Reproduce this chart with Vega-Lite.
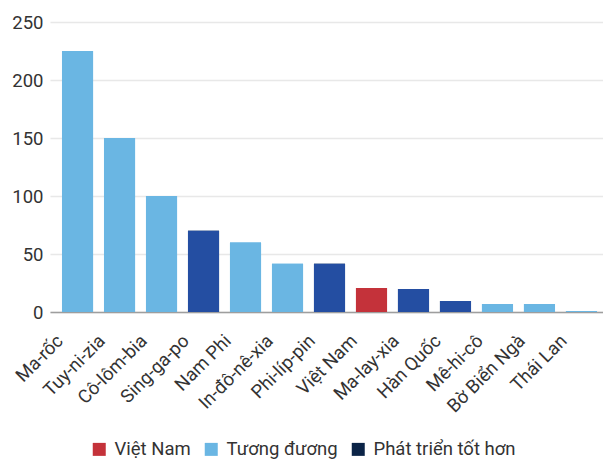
{
  "$schema": "https://vega.github.io/schema/vega-lite/v6.json",
  "autosize": "none",
  "width": 553,
  "height": 290,
  "padding": {"left": 50, "top": 22, "right": 0, "bottom": 147},
  "background": "white",
  "config": {
    "font": "Roboto",
    "view": {"stroke": null}
  },
  "data": {
    "values": [
      {"country": "Ma-rốc", "value": 225, "group": "Tương đương"},
      {"country": "Tuy-ni-zia", "value": 150, "group": "Tương đương"},
      {"country": "Cô-lôm-bia", "value": 100, "group": "Tương đương"},
      {"country": "Sing-ga-po", "value": 70, "group": "Phát triển tốt hơn"},
      {"country": "Nam Phi", "value": 60, "group": "Tương đương"},
      {"country": "In-đô-nê-xia", "value": 41.5, "group": "Tương đương"},
      {"country": "Phi-líp-pin", "value": 41.5, "group": "Phát triển tốt hơn"},
      {"country": "Việt Nam", "value": 20.7, "group": "Việt Nam"},
      {"country": "Ma-lay-xia", "value": 19.8, "group": "Phát triển tốt hơn"},
      {"country": "Hàn Quốc", "value": 9.5, "group": "Phát triển tốt hơn"},
      {"country": "Mê-hi-cô", "value": 7, "group": "Tương đương"},
      {"country": "Bờ Biển Ngà", "value": 7, "group": "Tương đương"},
      {"country": "Thái Lan", "value": 0.8, "group": "Tương đương"}
    ]
  },
  "encoding": {
    "x": {
      "field": "country",
      "type": "nominal",
      "sort": null,
      "scale": {"paddingInner": 0.26, "paddingOuter": 0.214, "align": 0.667},
      "axis": {
        "title": null,
        "labelAngle": -45,
        "labelFontSize": 18.5,
        "labelColor": "#333333",
        "labelPadding": 19,
        "labelOffset": -24,
        "ticks": false,
        "domainColor": "#9e9e9e",
        "domainWidth": 1.5
      }
    },
    "y": {
      "field": "value",
      "type": "quantitative",
      "scale": {"domain": [0, 250], "nice": false},
      "axis": {
        "title": null,
        "values": [0, 50, 100, 150, 200, 250],
        "labelFontSize": 18.5,
        "labelColor": "#333333",
        "labelPadding": 7,
        "ticks": false,
        "domain": false,
        "gridColor": "#e8e8e8",
        "gridWidth": 1.5
      }
    }
  },
  "layer": [
    {
      "mark": {"type": "bar"},
      "encoding": {
        "color": {
          "field": "group",
          "type": "nominal",
          "scale": {
            "domain": ["Việt Nam", "Tương đương", "Phát triển tốt hơn"],
            "range": ["#c4323a", "#6ab6e3", "#0b2447"]
          },
          "legend": {
            "title": null,
            "orient": "none",
            "direction": "horizontal",
            "legendX": 40,
            "legendY": 418,
            "padding": 0,
            "symbolType": "square",
            "symbolSize": 169,
            "symbolStrokeWidth": 0,
            "symbolOpacity": 1,
            "labelFontSize": 18.5,
            "labelColor": "#333333",
            "labelOffset": 6,
            "columnPadding": 11,
            "labelExpr": "datum.label == 'Tương đương' ? 'Tương đương\u00a0\u00a0\u00a0' : datum.label"
          }
        }
      }
    },
    {
      "mark": {"type": "bar"},
      "encoding": {
        "fill": {
          "field": "group",
          "type": "nominal",
          "scale": {
            "domain": ["Việt Nam", "Tương đương", "Phát triển tốt hơn"],
            "range": ["#c4323a", "#6ab6e3", "#244ea2"]
          },
          "legend": null
        }
      }
    }
  ]
}
